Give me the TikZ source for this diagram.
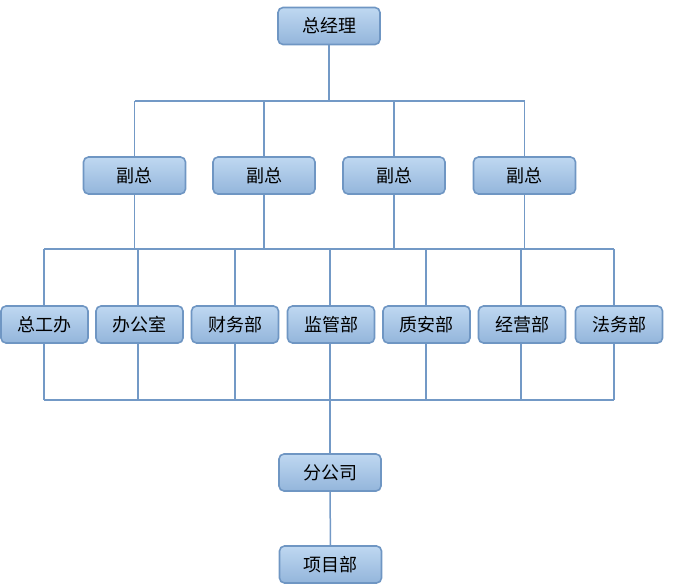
\documentclass[tikz,border=0pt]{standalone}
\usepackage{fontspec}
\newfontfamily\cjk{Noto Sans CJK SC}
\definecolor{linec}{HTML}{7399C6}
\definecolor{boxtop}{HTML}{BFD8F1}
\definecolor{boxbot}{HTML}{93B5DB}
\definecolor{boxline}{HTML}{6F96C3}
\tikzset{
  orgbox/.style={draw=boxline, line width=1.6pt, rounded corners=5pt,
    top color=boxtop, bottom color=boxbot, minimum height=37pt,
    inner sep=0pt, font=\cjk\fontsize{18}{20}\selectfont, text=black},
  wide/.style={orgbox, minimum width=102pt},
  narrow/.style={orgbox, minimum width=87pt},
  conn/.style={draw=linec, line width=1.5pt}
}
\begin{document}
\begin{tikzpicture}[x=1pt,y=-1pt]
\useasboundingbox (0,0) rectangle (673,584);
\node[wide] (gm) at (329,26) {总经理};
\node[wide] (vp1) at (134.5,175.5) {副总};
\node[wide] (vp2) at (264,175.5) {副总};
\node[wide] (vp3) at (394,175.5) {副总};
\node[wide] (vp4) at (524.5,175.5) {副总};
\node[narrow] (d1) at (44.5,324.5) {总工办};
\node[narrow] (d2) at (139.5,324.5) {办公室};
\node[narrow] (d3) at (235,324.5) {财务部};
\node[narrow] (d4) at (331,324.5) {监管部};
\node[narrow] (d5) at (426.5,324.5) {质安部};
\node[narrow] (d6) at (522,324.5) {经营部};
\node[narrow] (d7) at (619,324.5) {法务部};
\node[wide] (br) at (330,472.5) {分公司};
\node[wide] (pj) at (330.5,564.5) {项目部};
\coordinate (busA) at (329,101);
\coordinate (busB) at (44,249);
\coordinate (busBr) at (614,249);
\coordinate (busC) at (44,400);
\coordinate (busCr) at (614,400);
% top level
\draw[conn] (gm.south) -- (busA);
\draw[conn] (vp1.north |- busA) -- (vp4.north |- busA);
\foreach \v in {vp1,vp2,vp3,vp4}{
  \draw[conn] (\v.north |- busA) -- (\v.north);
  \draw[conn] (\v.south) -- (\v.south |- busB);
}
% middle bus
\draw[conn] (busB) -- (busBr);
\draw[conn] (busC) -- (busCr);
\foreach \d/\xx in {d1/44,d2/138,d3/235,d4/330,d5/426,d6/521,d7/614}{
  \draw[conn] (\xx,249) -- (\d.north -| \xx,0);
  \draw[conn] (\d.south -| \xx,0) -- (\xx,400);
}
\draw[conn] (br.north |- busC) -- (br.north);
\draw[conn] (br.south) -- (pj.north);
\end{tikzpicture}
\end{document}
